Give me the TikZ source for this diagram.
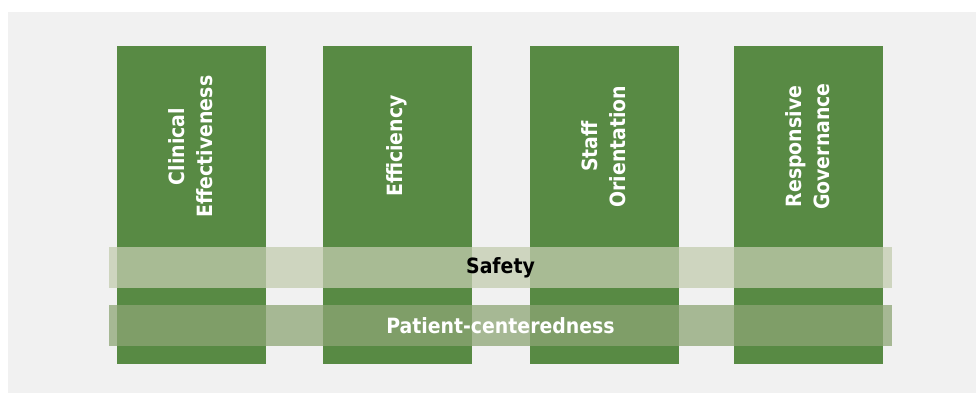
\documentclass[tikz,border=0pt]{standalone}
\usepackage{fontspec}
\setmainfont{DejaVu Sans Condensed}
\usetikzlibrary{positioning}

\definecolor{backgray}{HTML}{F1F1F1}
\definecolor{pillargreen}{HTML}{588A44}
\definecolor{safetyband}{HTML}{C3CCAF}
\definecolor{patientband}{HTML}{8DA575}

\tikzset{
	pillar/.style={fill=pillargreen, draw=none, anchor=north west, minimum width=149pt, minimum height=318pt, inner sep=0pt},
	pillartext/.style={rotate=90, align=center, text=white, font=\fontsize{21}{28}\selectfont\bfseries},
	band/.style={draw=none, fill opacity=0.75, text opacity=1, minimum width=783pt, minimum height=41pt, inner sep=0pt, font=\fontsize{21}{24}\selectfont\bfseries}
}

\begin{document}
\begin{tikzpicture}[x=1pt,y=-1pt]
	\useasboundingbox (0,0) rectangle (976,394);
	\fill[backgray] (8,12) rectangle (976,393);
	% the four pillars
	\node[pillar] (clinical) at (117,46) {};
	\node[pillar] (efficiency) at (323,46) {};
	\node[pillar] (staff) at (530,46) {};
	\node[pillar] (governance) at (734,46) {};
	\node[pillartext] (clinicaltext) at (190.5,146.5) {Clinical\\Effectiveness};
	\node[pillartext] (efficiencytext) at (396.5,146) {Efficiency};
	\node[pillartext] (stafftext) at (603.5,146.5) {Staff\\Orientation};
	\node[pillartext] (governancetext) at (807.5,146.5) {Responsive\\Governance};
	% the two bands across
	\node[band, fill=safetyband, text=black] (safety) at (500.5,267.5) {Safety};
	\node[band, fill=patientband, text=white] (patient) at (500.5,325.5) {Patient-centeredness};
\end{tikzpicture}
\end{document}
